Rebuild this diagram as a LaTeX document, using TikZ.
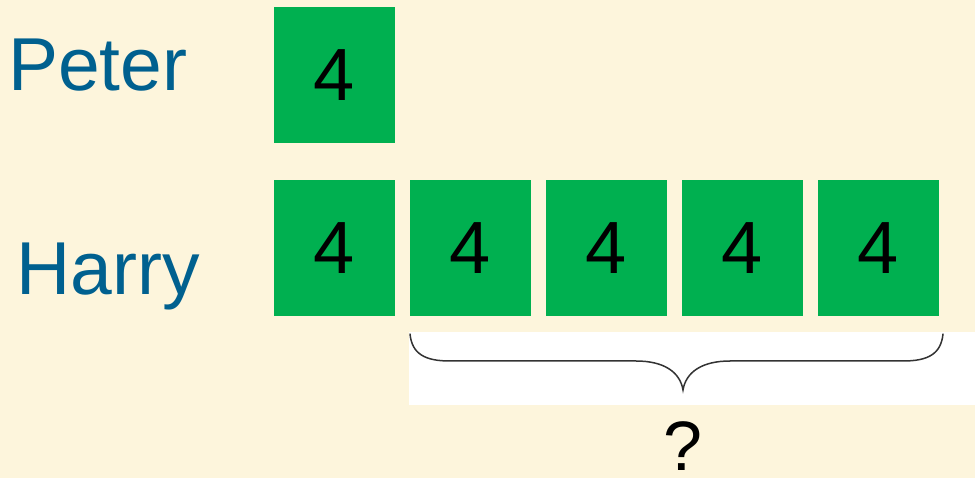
\documentclass[tikz,border=0pt]{standalone}
\usepackage{fontspec}
\setmainfont{Liberation Sans}
\definecolor{cream}{RGB}{253,245,220}
\definecolor{boxgreen}{RGB}{0,176,80}
\definecolor{nameblue}{RGB}{0,96,143}
\begin{document}
\begin{tikzpicture}[x=1pt, y=-1pt,
    numbox/.style={fill=boxgreen, minimum width=121pt, minimum height=136pt, inner sep=0pt, font=\fontsize{74}{80}\selectfont},
    namelabel/.style={anchor=base west, inner sep=0pt, text=nameblue, font=\fontsize{75}{80}\selectfont}]
    % Background
    \fill[cream] (0,0) rectangle (975,478);
    \useasboundingbox (0,0) rectangle (975,478);
    % Names
    \node[namelabel] (peter) at (8,91) {Peter};
    \node[namelabel] (harry) at (16,295) {Harry};
    % Peter's box
    \node[numbox] (p1) at (334.5,75.5) {4};
    % Harry's boxes
    \foreach \i in {1,...,5}
        \node[numbox] (h\i) at ({334.5+136*(\i-1)},248) {4};
    % Brace
    \fill[white] (409,332) rectangle (975,405);
    \draw[black!80, line width=1.5pt, line cap=round]
        (410,334) .. controls (412,354) and (425,361) .. (450,361)
        -- (636,361) .. controls (664,361) and (680,372) .. (683,390)
        .. controls (686,372) and (702,361) .. (730,361)
        -- (903,361) .. controls (928,361) and (941,354) .. (943,334);
    % Question
    \node[anchor=base, inner sep=0pt, font=\fontsize{70}{80}\selectfont] (q) at (683,470) {?};
\end{tikzpicture}
\end{document}
